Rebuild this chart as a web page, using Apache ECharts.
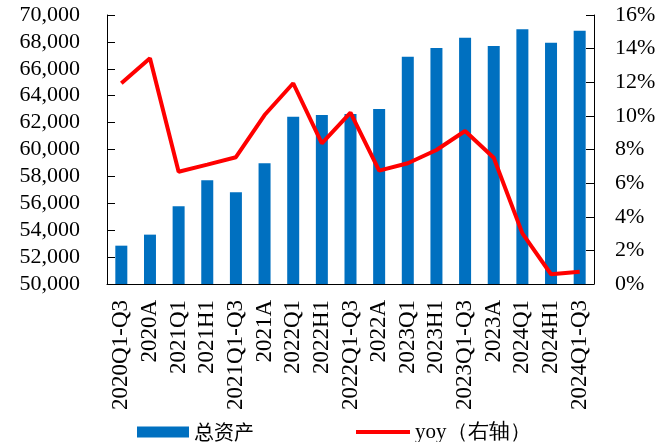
<!DOCTYPE html>
<html>
<head>
<meta charset="utf-8">
<script src="https://cdn.jsdelivr.net/npm/echarts@6/dist/echarts.min.js"></script>
<style>html,body{margin:0;padding:0;background:#fff}#c{width:672px;height:442px}</style>
</head>
<body>
<div id="c"></div>
<script>
var categories = ['2020Q1-Q3','2020A','2021Q1','2021H1','2021Q1-Q3','2021A','2022Q1','2022H1','2022Q1-Q3','2022A','2023Q1','2023H1','2023Q1-Q3','2023A','2024Q1','2024H1','2024Q1-Q3'];
var totalAssets = [52850,53670,55780,57710,56820,58970,62440,62570,62640,63010,66900,67550,68310,67700,68940,67940,68830];
var yoy = [11.94,13.43,6.68,7.1,7.54,10.05,11.94,8.37,10.19,6.74,7.18,7.97,9.1,7.51,3.01,0.58,0.73];
var leftTicks = {min:50000, max:70000, interval:2000};
var rightTicks = {min:0, max:16, interval:2};

var serif = '"Liberation Serif","Times New Roman",serif';
var cjk = '"Noto Sans CJK SC",sans-serif';
var chart = echarts.init(document.getElementById('c'), null, {renderer:'canvas'});
chart.setOption({
  animation:false,
  textStyle:{fontFamily:serif,color:'#000'},
  grid:{left:107,right:78,top:15,bottom:158,containLabel:false},
  legend:[{
    data:[{name:'总资产',icon:'path://M0,4.5L52,4.5L52,15.5L0,15.5Z'}], left:137, top:421, itemWidth:52, itemHeight:20, itemGap:8,
    itemStyle:{borderWidth:0},
    textStyle:{fontFamily:cjk,fontSize:20,color:'#000',lineHeight:22}, padding:0
  },{
    data:[{name:'yoy（右轴）',icon:'path://M0,8L54,8L54,12L0,12Z'}], left:356, top:421, itemWidth:54, itemHeight:20, itemGap:4,
    textStyle:{fontFamily:serif,fontSize:21,color:'#000',lineHeight:22}, padding:0
  }],
  xAxis:{
    type:'category', data:categories, boundaryGap:true,
    axisLine:{lineStyle:{color:'#000',width:1}},
    axisTick:{inside:true,length:7,lineStyle:{color:'#000'}},
    axisLabel:{rotate:90,interval:0,margin:16,fontSize:23,color:'#000',fontFamily:serif}
  },
  yAxis:[{
    type:'value', min:leftTicks.min, max:leftTicks.max, interval:leftTicks.interval,
    axisLine:{show:true,lineStyle:{color:'#000',width:1}},
    axisTick:{show:true,inside:true,length:8,lineStyle:{color:'#000'}},
    splitLine:{show:false},
    axisLabel:{margin:27,fontSize:22,color:'#000',fontFamily:serif,
      formatter:function(v){return v.toLocaleString('en-US');}}
  },{
    type:'value', min:rightTicks.min, max:rightTicks.max, interval:rightTicks.interval,
    position:'right',
    axisLine:{show:true,lineStyle:{color:'#000',width:1}},
    axisTick:{show:true,inside:true,length:8,lineStyle:{color:'#000'}},
    splitLine:{show:false},
    axisLabel:{margin:21,fontSize:22,color:'#000',fontFamily:serif,formatter:'{value}%'}
  }],
  series:[{
    name:'总资产', type:'bar', data:totalAssets, yAxisIndex:0, barWidth:12,
    itemStyle:{color:'#0070C0'}
  },{
    name:'yoy（右轴）', type:'line', data:yoy, yAxisIndex:1, symbol:'none',
    lineStyle:{color:'#FF0000',width:4}, itemStyle:{color:'#FF0000'}
  }]
});
</script>
</body>
</html>
